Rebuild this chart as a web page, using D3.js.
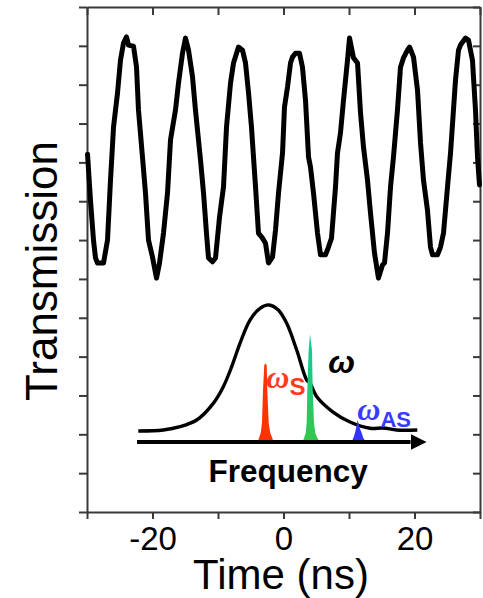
<!DOCTYPE html>
<html>
<head>
<meta charset="utf-8">
<script src="https://cdn.jsdelivr.net/npm/d3@7/dist/d3.min.js"></script>
<style>
  html, body { margin: 0; padding: 0; background: #fff; }
  svg { display: block; }
  text { font-family: "Liberation Sans", Arial, sans-serif; }
</style>
</head>
<body>
<script>
// ---------- data ----------
const timeNs = [-29.92,-29.47,-29.01,-28.70,-28.40,-27.94,-27.48,-26.87,-26.41,-25.95,-25.34,-24.89,-24.43,-23.97,-23.66,-22.90,-22.44,-22.14,-21.53,-21.07,-20.61,-20.00,-19.39,-18.93,-18.32,-17.71,-17.25,-16.49,-16.03,-15.42,-14.96,-14.50,-13.89,-13.44,-12.67,-12.21,-11.76,-11.45,-10.84,-10.38,-9.77,-9.16,-8.70,-8.09,-7.63,-6.87,-6.26,-5.80,-5.34,-4.89,-4.27,-3.82,-3.21,-2.75,-2.29,-1.68,-1.22,-0.76,-0.15,0.15,0.61,1.07,1.37,1.83,2.44,2.90,3.36,3.82,4.12,4.58,5.19,5.65,6.41,6.87,7.33,7.94,8.24,8.70,9.16,9.77,10.08,10.69,11.30,11.76,12.21,12.82,13.28,13.89,14.50,15.11,15.42,15.88,16.34,16.79,17.40,17.86,18.32,18.93,19.24,19.85,20.46,20.92,21.37,21.98,22.44,22.75,23.51,23.97,24.43,25.04,25.50,25.95,26.26,26.72,27.02,27.79,28.24,28.85,29.31,29.62,29.92];
const transmission = [0.921,0.803,0.700,0.654,0.641,0.641,0.641,0.700,0.855,0.991,1.079,1.163,1.207,1.223,1.202,1.199,1.145,1.035,0.914,0.821,0.700,0.656,0.602,0.641,0.718,0.821,0.958,1.035,1.104,1.181,1.220,1.189,1.120,1.035,0.906,0.821,0.718,0.654,0.644,0.654,0.759,0.837,0.991,1.104,1.156,1.197,1.189,1.156,1.079,0.991,0.837,0.718,0.705,0.692,0.641,0.656,0.726,0.821,0.924,1.042,1.094,1.156,1.171,1.181,1.181,1.145,1.060,0.914,0.888,0.821,0.718,0.662,0.662,0.682,0.705,0.837,0.924,0.976,1.060,1.163,1.220,1.169,1.156,1.027,0.940,0.855,0.770,0.667,0.602,0.636,0.641,0.718,0.837,0.914,1.035,1.145,1.169,1.189,1.197,1.171,1.086,0.950,0.855,0.777,0.682,0.662,0.662,0.682,0.718,0.837,0.924,1.035,1.112,1.189,1.202,1.220,1.215,1.163,1.035,0.914,0.842];

const xTicks = [-30,-20,-10,0,10,20,30];
const xTickLabels = [-20, 0, 20];
const yTicks = [0,0.1,0.2,0.3,0.4,0.5,0.6,0.7,0.8,0.9,1.0,1.1,1.2,1.3];

// inset: resonance curve and spectral lines (frequency in a.u., amplitude in a.u.)
const curveFreq = [0.45,9.13,14.93,20.73,26.49,29.97,32.88,35.76,39.24,42.71,45.83,49.06,51.98,55.45,58.92,60.07,62.5,68.06,73.96,80.90,85.42,90.17,97.33];
const curveAmp  = [0.079,0.086,0.109,0.157,0.276,0.395,0.538,0.705,0.871,0.955,0.979,0.943,0.848,0.657,0.443,0.421,0.321,0.214,0.143,0.098,0.100,0.086,0.086];

const stokesFreq = [41.91,42.36,42.95,43.40,43.75,44.20,44.62,45.03,45.24,45.73,46.28,46.98,47.33];
const stokesAmp  = [0,0.029,0.064,0.136,0.371,0.55,0.56,0.55,0.371,0.136,0.064,0.029,0];
const pumpFreq   = [57.53,57.99,58.58,58.92,59.13,59.60,60.07,60.76,61.01,61.46,61.91,62.60,63.54];
const pumpAmp    = [0,0.029,0.064,0.136,0.371,0.657,0.771,0.657,0.371,0.136,0.064,0.029,0];
const antiFreq   = [74.55,75.10,75.69,76.15,76.60,77.19,78.02,78.58,79.51];
const antiAmp    = [0,0.029,0.064,0.107,0.157,0.107,0.064,0.029,0];

// ---------- layout ----------
const W = 483, H = 598;
const M = {left: 87, right: 3, top: 7, bottom: 86};
const svg = d3.select("body").append("svg").attr("width", W).attr("height", H);

const x = d3.scaleLinear().domain([-30, 30]).range([M.left, W - M.right]);
const y = d3.scaleLinear().domain([0, 1.3]).range([H - M.bottom, M.top]);

const axisColor = "#3a3a3a";
function styleAxis(g) {
  g.selectAll("path.domain").attr("stroke", axisColor).attr("stroke-width", 2);
  g.selectAll(".tick line").attr("stroke", axisColor).attr("stroke-width", 2);
}

// bottom axis
const gB = svg.append("g").attr("transform", `translate(0,${y(0)})`)
  .call(d3.axisBottom(x).tickValues(xTicks).tickSize(7).tickSizeOuter(0).tickPadding(8)
    .tickFormat(d => xTickLabels.includes(d) ? String(d) : ""));
styleAxis(gB);
gB.selectAll(".tick text").attr("font-size", 33).attr("fill", "#000")
  .attr("font-family", "'Liberation Sans', Arial, sans-serif");

// top axis (inward ticks)
const gT = svg.append("g").attr("transform", `translate(0,${y(1.3)})`)
  .call(d3.axisTop(x).tickValues(xTicks).tickSize(-8).tickSizeOuter(0).tickFormat(""));
styleAxis(gT);

// left axis (outward ticks)
const gL = svg.append("g").attr("transform", `translate(${x(-30)},0)`)
  .call(d3.axisLeft(y).tickValues(yTicks).tickSize(8).tickSizeOuter(0).tickFormat(""));
styleAxis(gL);

// right axis (inward ticks)
const gR = svg.append("g").attr("transform", `translate(${x(30)},0)`)
  .call(d3.axisRight(y).tickValues(yTicks).tickSize(-7).tickSizeOuter(0).tickFormat(""));
styleAxis(gR);

// axis titles
svg.append("text").attr("x", 281).attr("y", 589)
  .attr("text-anchor", "middle").attr("font-size", 42).attr("fill", "#000").text("Time (ns)");
svg.append("text").attr("transform", `translate(57,271) rotate(-90)`)
  .attr("text-anchor", "middle").attr("font-size", 44).attr("fill", "#000").text("Transmission");

// data line
const series = timeNs.map((t, i) => [t, transmission[i]]);
svg.append("path").datum(series)
  .attr("fill", "none").attr("stroke", "#000").attr("stroke-width", 5)
  .attr("stroke-linejoin", "round").attr("stroke-linecap", "round")
  .attr("d", d3.line().x(d => x(d[0])).y(d => y(d[1])));

// ---------- inset ----------
const fx = d3.scaleLinear().domain([0, 100]).range([137, 425]);
const fy = d3.scaleLinear().domain([0, 1]).range([442, 302]);

const defs = svg.append("defs");
const grad = defs.append("linearGradient").attr("id", "gPump").attr("x1", 0).attr("x2", 0).attr("y1", 0).attr("y2", 1);
grad.append("stop").attr("offset", "0%").attr("stop-color", "#12c9a0");
grad.append("stop").attr("offset", "100%").attr("stop-color", "#33c84a");

defs.append("marker").attr("id", "arrow").attr("viewBox", "0 0 10 10")
  .attr("refX", 0).attr("refY", 5).attr("markerWidth", 4).attr("markerHeight", 4)
  .attr("markerUnits", "strokeWidth").attr("orient", "auto")
  .append("path").attr("d", "M0,0 L10,5 L0,10 z").attr("fill", "#000");

const curveData = curveFreq.map((f, i) => [f, curveAmp[i]]);
svg.append("path").datum(curveData)
  .attr("fill", "none").attr("stroke", "#000").attr("stroke-width", 3.4)
  .attr("d", d3.line().x(d => fx(d[0])).y(d => fy(d[1])).curve(d3.curveCatmullRom));

const area = d3.area().x(d => fx(d[0])).y0(fy(0)).y1(d => fy(d[1])).curve(d3.curveLinear);
svg.append("path").datum(stokesFreq.map((f, i) => [f, stokesAmp[i]])).attr("fill", "#ff3300").attr("d", area);
svg.append("path").datum(pumpFreq.map((f, i) => [f, pumpAmp[i]])).attr("fill", "url(#gPump)").attr("d", area);
svg.append("path").datum(antiFreq.map((f, i) => [f, antiAmp[i]])).attr("fill", "#3333ff").attr("d", area);

// frequency arrow
svg.append("line").attr("x1", fx(0)).attr("x2", fx(95)).attr("y1", fy(0)).attr("y2", fy(0))
  .attr("stroke", "#000").attr("stroke-width", 4).attr("marker-end", "url(#arrow)");

svg.append("text").attr("x", fx(52.5)).attr("y", 482).attr("text-anchor", "middle")
  .attr("font-size", 31.5).attr("font-weight", "bold").attr("fill", "#000").text("Frequency");

// omega labels
const omegaFont = "'Liberation Serif', 'Times New Roman', serif";
svg.append("text").attr("x", fx(66.4)).attr("y", fy(0.493))
  .attr("font-family", omegaFont).attr("font-style", "italic").attr("font-weight", "bold")
  .attr("font-size", 32).attr("fill", "#000").text("ω");

const tS = svg.append("text").attr("x", fx(44.9)).attr("y", fy(0.386)).attr("fill", "#ff3b1f");
tS.append("tspan").attr("font-family", omegaFont).attr("font-style", "italic").attr("font-weight", "bold")
  .attr("font-size", 32).text("ω");
tS.append("tspan").attr("dy", 7).attr("font-size", 24).attr("font-weight", "bold").text("S");

const tAS = svg.append("text").attr("x", fx(76.5)).attr("y", fy(0.157)).attr("fill", "#3a3aff");
tAS.append("tspan").attr("font-family", omegaFont).attr("font-style", "italic").attr("font-weight", "bold")
  .attr("font-size", 32).text("ω");
tAS.append("tspan").attr("dy", 7).attr("font-size", 22).attr("font-weight", "bold").text("AS");
</script>
</body>
</html>
